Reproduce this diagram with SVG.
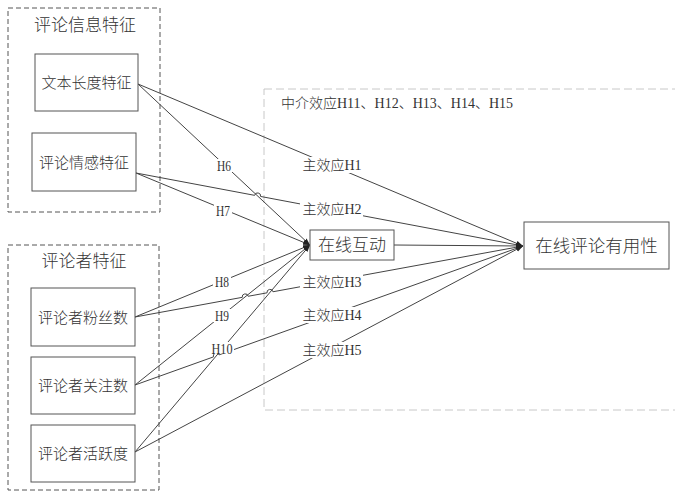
<svg xmlns="http://www.w3.org/2000/svg" width="675" height="496" viewBox="0 0 675 496">
<defs>
<style>
.grp{fill:none;stroke:#555;stroke-width:1;stroke-dasharray:5 3}
.med{fill:none;stroke:#c8c8c8;stroke-width:1;stroke-dasharray:8 4}
.node{fill:#fff;stroke:#555;stroke-width:1}
.t{font-family:"Liberation Serif","Noto Sans CJK SC",serif;fill:#333;font-weight:300}
.ln{fill:none;stroke:#444;stroke-width:1}
.bg{fill:#fff}
</style>
<marker id="ah" markerWidth="8" markerHeight="6" refX="7" refY="2.5" orient="auto" markerUnits="userSpaceOnUse">
<path d="M0,0 L7,2.5 L0,5 z" fill="#222"/>
</marker>
</defs>
<rect width="675" height="496" fill="#fff"/>

<g id="group-info">
<rect class="grp" x="8" y="8" width="152" height="204"/>
<text class="t" x="85" y="31" font-size="17" text-anchor="middle">评论信息特征</text>
</g>
<g id="group-reviewer">
<rect class="grp" x="8" y="245" width="151" height="245"/>
<text class="t" x="84" y="267" font-size="17" text-anchor="middle">评论者特征</text>
</g>
<g id="group-mediation">
<rect class="med" x="264" y="89" width="420" height="321"/>
<text class="t" x="281" y="108" font-size="14">中介效应H11、H12、H13、H14、H15</text>
</g>

<g id="connectors">
<path class="ln" marker-end="url(#ah)" d="M138,84 L523,246"/>
<path class="ln" marker-end="url(#ah)" d="M138,84 L310,245"/>
<path class="ln" marker-end="url(#ah)" d="M136,173 L254.65,195.35 A3,3 0 0 1 260.55,196.45 L523,246"/>
<path class="ln" marker-end="url(#ah)" d="M136,173 L310,245"/>
<path class="ln" marker-end="url(#ah)" d="M135,317 L310,245"/>
<path class="ln" marker-end="url(#ah)" d="M135,317 L242.25,297.34 A3,3 0 0 1 248.15,296.26 L267.05,292.84 A3,3 0 0 1 272.95,291.76 L523,246"/>
<path class="ln" marker-end="url(#ah)" d="M135,385 L310,245"/>
<path class="ln" marker-end="url(#ah)" d="M135,385 L213.42,356.91 A3,3 0 0 1 219.06,354.89 L523,246"/>
<path class="ln" marker-end="url(#ah)" d="M135,452 L310,245"/>
<path class="ln" marker-end="url(#ah)" d="M135,452 L523,246"/>
<path class="ln" marker-end="url(#ah)" d="M394,245 L523,246"/>
</g>

<g id="labels">
<rect class="bg" x="300" y="157" width="63" height="16"/>
<text class="t" x="332" y="170" font-size="14" text-anchor="middle">主效应H1</text>
<rect class="bg" x="300" y="201" width="63" height="16"/>
<text class="t" x="332" y="214" font-size="14" text-anchor="middle">主效应H2</text>
<rect class="bg" x="300" y="274" width="63" height="16"/>
<text class="t" x="332" y="287" font-size="14" text-anchor="middle">主效应H3</text>
<rect class="bg" x="300" y="307" width="63" height="16"/>
<text class="t" x="332" y="320" font-size="14" text-anchor="middle">主效应H4</text>
<rect class="bg" x="300" y="342" width="63" height="16"/>
<text class="t" x="332" y="355" font-size="14" text-anchor="middle">主效应H5</text>

<rect class="bg" x="215" y="159" width="18" height="13"/>
<text class="t" x="224" y="171" font-size="14" text-anchor="middle" textLength="14" lengthAdjust="spacingAndGlyphs">H6</text>
<rect class="bg" x="214" y="204" width="18" height="13"/>
<text class="t" x="223" y="216" font-size="14" text-anchor="middle" textLength="14" lengthAdjust="spacingAndGlyphs">H7</text>
<rect class="bg" x="213" y="275" width="18" height="13"/>
<text class="t" x="222" y="287" font-size="14" text-anchor="middle" textLength="14" lengthAdjust="spacingAndGlyphs">H8</text>
<rect class="bg" x="213" y="309" width="18" height="13"/>
<text class="t" x="222" y="321" font-size="14" text-anchor="middle" textLength="14" lengthAdjust="spacingAndGlyphs">H9</text>
<rect class="bg" x="210" y="342" width="24" height="12"/>
<text class="t" x="222" y="354" font-size="14" text-anchor="middle" textLength="21" lengthAdjust="spacingAndGlyphs">H10</text>
</g>

<g id="node-text-length">
<rect class="node" x="35" y="54" width="103" height="57"/>
<text class="t" x="86.5" y="88" font-size="15" text-anchor="middle">文本长度特征</text>
</g>
<g id="node-sentiment">
<rect class="node" x="32" y="133" width="104" height="58"/>
<text class="t" x="84" y="167.5" font-size="15" text-anchor="middle">评论情感特征</text>
</g>
<g id="node-fans">
<rect class="node" x="31" y="288" width="104" height="58"/>
<text class="t" x="83" y="322.5" font-size="15" text-anchor="middle">评论者粉丝数</text>
</g>
<g id="node-follow">
<rect class="node" x="31" y="357" width="104" height="57"/>
<text class="t" x="83" y="391" font-size="15" text-anchor="middle">评论者关注数</text>
</g>
<g id="node-activity">
<rect class="node" x="31" y="425" width="104" height="57"/>
<text class="t" x="83" y="459" font-size="15" text-anchor="middle">评论者活跃度</text>
</g>
<g id="node-interaction">
<rect class="node" x="310" y="230" width="84" height="30"/>
<text class="t" x="352" y="251" font-size="17" text-anchor="middle">在线互动</text>
</g>
<g id="node-usefulness">
<rect class="node" x="524" y="222" width="145" height="47"/>
<text class="t" x="596.5" y="252" font-size="17.5" text-anchor="middle">在线评论有用性</text>
</g>
</svg>
